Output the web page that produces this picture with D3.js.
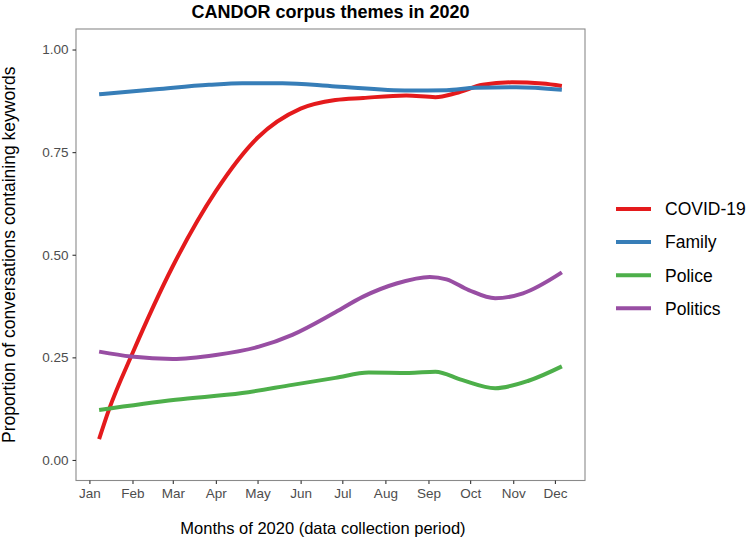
<!DOCTYPE html>
<html>
<head>
<meta charset="utf-8">
<script src="https://cdn.jsdelivr.net/npm/d3@7"></script>
<style>
  body { margin: 0; background: #fff; }
  text { font-family: "Liberation Sans", Arial, sans-serif; }
</style>
</head>
<body>
<script>
// series (date, proportion)
var themes = ['COVID-19', 'Family', 'Police', 'Politics'];
var colors = ['#E41A1C', '#377EB8', '#4DAF4A', '#984EA3'];

var covid = [
  ['2020-01-08', 0.051], ['2020-01-15', 0.122], ['2020-02-01', 0.260], ['2020-03-01', 0.472],
  ['2020-04-01', 0.655], ['2020-05-01', 0.785], ['2020-06-01', 0.856], ['2020-06-26', 0.877],
  ['2020-07-16', 0.882], ['2020-08-16', 0.888], ['2020-09-06', 0.884], ['2020-09-21', 0.894],
  ['2020-10-10', 0.914], ['2020-10-31', 0.920], ['2020-11-22', 0.917], ['2020-12-06', 0.911]
];
var family = [
  ['2020-01-08', 0.891], ['2020-02-18', 0.903], ['2020-03-27', 0.914], ['2020-04-20', 0.918],
  ['2020-05-19', 0.918], ['2020-06-26', 0.910], ['2020-08-18', 0.900], ['2020-09-14', 0.901],
  ['2020-10-05', 0.907], ['2020-11-03', 0.908], ['2020-12-06', 0.902]
];
var police = [
  ['2020-01-08', 0.122], ['2020-03-03', 0.147], ['2020-04-20', 0.163], ['2020-05-26', 0.183],
  ['2020-06-26', 0.200], ['2020-07-20', 0.213], ['2020-08-18', 0.212], ['2020-09-06', 0.215],
  ['2020-09-25', 0.195], ['2020-10-19', 0.175], ['2020-11-12', 0.193], ['2020-12-06', 0.228]
];
var politics = [
  ['2020-01-08', 0.264], ['2020-01-31', 0.252], ['2020-03-01', 0.246], ['2020-04-01', 0.256],
  ['2020-05-02', 0.276], ['2020-05-26', 0.305], ['2020-06-26', 0.360], ['2020-07-16', 0.398],
  ['2020-08-09', 0.430], ['2020-09-02', 0.446], ['2020-09-14', 0.440], ['2020-09-30', 0.414],
  ['2020-10-19', 0.394], ['2020-11-08', 0.406], ['2020-12-06', 0.457]
];
var y_ticks = [0, 0.25, 0.5, 0.75, 1];

var parse = d3.utcParse('%Y-%m-%d');
var series = [covid, family, police, politics].map(function(s, i) {
  return { name: themes[i], color: colors[i], values: s.map(d => ({ date: parse(d[0]), v: d[1] })) };
});

var width = 750, height = 542;
var panel = { left: 76, right: 585, top: 29, bottom: 480.5 };

var svg = d3.select('body').append('svg').attr('width', width).attr('height', height);

// x scale with ggplot style 5% expansion
var all_dates = [];
series.forEach(s => s.values.forEach(d => all_dates.push(d.date)));
var ext = d3.extent(all_dates);
var pad_ms = (ext[1] - ext[0]) * 0.05;
var x_scale = d3.scaleUtc()
  .domain([new Date(+ext[0] - pad_ms), new Date(+ext[1] + pad_ms)])
  .range([panel.left, panel.right]);
var y_scale = d3.scaleLinear().domain([-0.05, 1.05]).range([panel.bottom, panel.top]);

// lines
var line = d3.line()
  .x(d => x_scale(d.date))
  .y(d => y_scale(d.v))
  .curve(d3.curveMonotoneX);

svg.append('g').selectAll('path').data(series).enter().append('path')
  .attr('d', d => line(d.values))
  .attr('fill', 'none')
  .attr('stroke', d => d.color)
  .attr('stroke-width', 4);

// panel border
svg.append('rect')
  .attr('x', panel.left).attr('y', panel.top)
  .attr('width', panel.right - panel.left).attr('height', panel.bottom - panel.top)
  .attr('fill', 'none').attr('stroke', '#8a8a8a').attr('stroke-width', 1.1);

// axes
var months = d3.utcMonth.range(parse('2020-01-01'), parse('2020-12-02'));
var x_axis = svg.append('g').attr('transform', 'translate(0,' + panel.bottom + ')')
  .call(d3.axisBottom(x_scale).tickValues(months).tickFormat(d3.utcFormat('%b')).tickSize(3.5).tickPadding(4));
var y_axis = svg.append('g').attr('transform', 'translate(' + panel.left + ',0)')
  .call(d3.axisLeft(y_scale).tickValues(y_ticks).tickFormat(d3.format('.2f')).tickSize(3.5).tickPadding(4));
[x_axis, y_axis].forEach(function(a) {
  a.select('.domain').remove();
  a.selectAll('.tick line').attr('stroke', '#333').attr('stroke-width', 1.1);
  a.selectAll('.tick text').attr('fill', '#4d4d4d').style('font-size', '13.5px')
    .style('font-family', '"Liberation Sans", Arial, sans-serif');
});

// titles
svg.append('text').attr('x', (panel.left + panel.right) / 2).attr('y', 18)
  .attr('text-anchor', 'middle').style('font-size', '18px').style('font-weight', 'bold')
  .text('CANDOR corpus themes in 2020');
svg.append('text').attr('x', 323).attr('y', 534)
  .attr('text-anchor', 'middle').style('font-size', '16.5px')
  .text('Months of 2020 (data collection period)');
svg.append('text')
  .attr('transform', 'translate(15,' + ((panel.top + panel.bottom) / 2) + ') rotate(-90)')
  .attr('text-anchor', 'middle').style('font-size', '17.5px')
  .text('Proportion of conversations containing keywords');

// legend
var legend = svg.append('g').attr('transform', 'translate(616,209)');
var items = legend.selectAll('g').data(series).enter().append('g')
  .attr('transform', (d, i) => 'translate(0,' + (i * 33.1) + ')');
items.append('line').attr('x1', 0).attr('x2', 35).attr('y1', 0).attr('y2', 0)
  .attr('stroke', d => d.color).attr('stroke-width', 4);
items.append('text').attr('x', 49).attr('y', 6.3).style('font-size', '17.5px')
  .text(d => d.name);
</script>
</body>
</html>
